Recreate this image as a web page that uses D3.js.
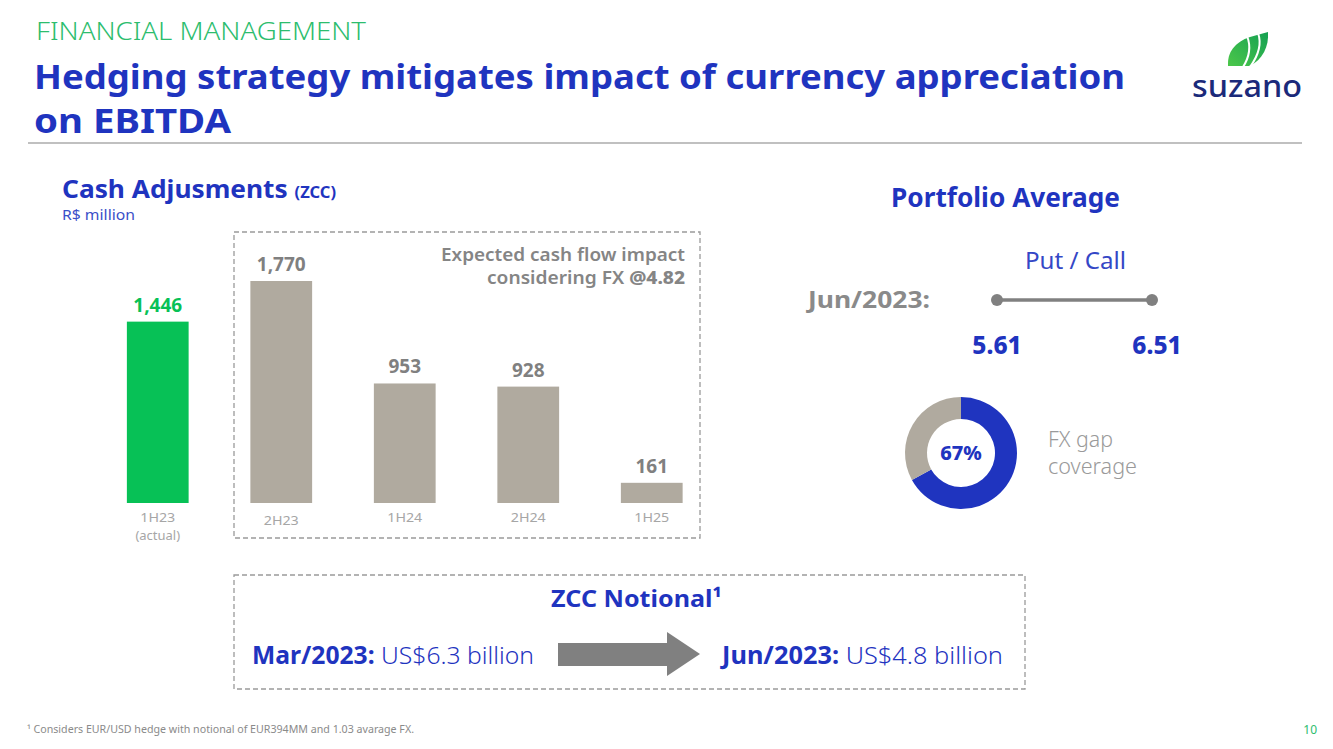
<!DOCTYPE html>
<html><head><meta charset="utf-8">
<script src="https://cdn.jsdelivr.net/npm/d3@7"></script>
<style>
body{margin:0;background:#fff;}
svg text{font-family:"Noto Sans",sans-serif;}
</style></head>
<body><svg id="c" width="1333" height="749"></svg>
<script>
const categories = ["1H23", "2H23", "1H24", "2H24", "1H25"];
const subLabels = ["(actual)", "", "", "", ""];
const values = [1446, 1770, 953, 928, 161];
const valueLabels = ["1,446", "1,770", "953", "928", "161"];
const actualFlags = [true, false, false, false, false];
const putCall = [5.61, 6.51];
const putCallLabels = ["5.61", "6.51"];
const coverage = [67, 33];

const BLUE = "#1f34bf", GREEN = "#07c156", GREY = "#b0aa9f";
const svg = d3.select("#c");
function fit(sel, w){ return sel.attr("textLength", w).attr("lengthAdjust","spacingAndGlyphs"); }

// Header
fit(svg.append("text").attr("x",36).attr("y",40).attr("fill","#2dbd6e").attr("font-size",25).attr("font-weight",300).text("FINANCIAL MANAGEMENT"), 330);
fit(svg.append("text").attr("x",34).attr("y",89).attr("fill",BLUE).attr("font-size",34).attr("font-weight",700).attr("font-family","Roboto, sans-serif").text("Hedging strategy mitigates impact of currency appreciation"), 1091);
fit(svg.append("text").attr("x",34).attr("y",133).attr("fill",BLUE).attr("font-size",34).attr("font-weight",700).attr("font-family","Roboto, sans-serif").text("on EBITDA"), 197);
svg.append("line").attr("x1",28).attr("x2",1302).attr("y1",143).attr("y2",143).attr("stroke","#c0c0c0").attr("stroke-width",2);

// Logo
const defs = svg.append("defs");
const lg = defs.append("linearGradient").attr("id","leafg").attr("x1","0").attr("y1","1").attr("x2","1").attr("y2","0");
lg.append("stop").attr("offset","0").attr("stop-color","#4cc74a");
lg.append("stop").attr("offset","1").attr("stop-color","#14a052");
const logo = svg.append("g");
logo.append("path").attr("d","M1228,66 C1227,52 1235,42 1250,37 L1268,32 C1269,46 1263,60 1249,66 Z").attr("fill","url(#leafg)");
logo.append("path").attr("d","M1247,36 C1251,46 1250,56 1243,67").attr("fill","none").attr("stroke","#fff").attr("stroke-width",2);
logo.append("path").attr("d","M1258,33 C1262,44 1258,56 1250,67").attr("fill","none").attr("stroke","#fff").attr("stroke-width",2);
fit(logo.append("text").attr("x",1192).attr("y",97).attr("fill","#1b2a7a").attr("font-size",31).attr("font-weight",500).attr("font-family","Lato, sans-serif").text("suzano"), 110);

// Section title
const t1 = svg.append("text").attr("x",62).attr("y",198).attr("fill",BLUE).attr("font-size",25.5).attr("font-weight",700);
t1.append("tspan").text("Cash Adjusments ");
t1.append("tspan").attr("font-size",16).text("(ZCC)");
fit(t1, 274);
fit(svg.append("text").attr("x",62).attr("y",220).attr("fill","#3a4fc8").attr("font-size",15).text("R$ million"), 73);

// Bars
const x = d3.scaleBand().domain(categories).range([96, 713.5]).paddingInner(0.5).paddingOuter(0.25);
const y = d3.scaleLinear().domain([0, 1770]).range([503, 281]);

svg.append("rect").attr("x",234).attr("y",232).attr("width",466).attr("height",306)
  .attr("fill","none").attr("stroke","#9a9a9a").attr("stroke-width",1.3).attr("stroke-dasharray","5,3");

const bars = svg.append("g");
bars.selectAll("rect").data(values).join("rect")
  .attr("x",(d,i)=>x(categories[i])).attr("width",x.bandwidth())
  .attr("y",d=>y(d)).attr("height",d=>y(0)-y(d))
  .attr("fill",(d,i)=>actualFlags[i]?GREEN:GREY);
bars.selectAll("text.v").data(values).join("text").attr("class","v")
  .attr("x",(d,i)=>x(categories[i])+x.bandwidth()/2).attr("y",d=>y(d)-10)
  .attr("text-anchor","middle").attr("font-size",19).attr("font-weight",700)
  .attr("fill",(d,i)=>actualFlags[i]?GREEN:"#808080").text((d,i)=>valueLabels[i]);
bars.selectAll("text.c").data(categories).join("text").attr("class","c")
  .attr("x",d=>x(d)+x.bandwidth()/2).attr("y",(d,i)=>i===1?525:522)
  .attr("text-anchor","middle").attr("font-size",13).attr("textLength",35).attr("lengthAdjust","spacingAndGlyphs")
  .attr("fill","#a6a6a6").text(d=>d);
bars.selectAll("text.s").data(subLabels).join("text").attr("class","s")
  .attr("x",(d,i)=>x(categories[i])+x.bandwidth()/2).attr("y",540)
  .attr("text-anchor","middle").attr("font-size",13).attr("fill","#a6a6a6").text(d=>d);

fit(svg.append("text").attr("x",441).attr("y",261).attr("fill","#858585").attr("font-size",17.5).attr("font-weight",600).text("Expected cash flow impact"), 244);
const e2 = svg.append("text").attr("x",487).attr("y",284).attr("fill","#858585").attr("font-size",17.5).attr("font-weight",600);
e2.append("tspan").text("considering FX ");
e2.append("tspan").attr("font-weight",800).text("@4.82");
fit(e2, 198);

// Portfolio average
fit(svg.append("text").attr("x",891).attr("y",207).attr("fill",BLUE).attr("font-size",26).attr("font-weight",700).text("Portfolio Average"), 229);
fit(svg.append("text").attr("x",1025).attr("y",269).attr("fill","#3447c6").attr("font-size",24).attr("font-weight",400).text("Put / Call"), 101);
fit(svg.append("text").attr("x",808).attr("y",308).attr("fill","#8a8a8a").attr("font-size",24).attr("font-weight",700).text("Jun/2023:"), 122);
const px = d3.scaleLinear().domain(putCall).range([997, 1152]);
svg.append("line").attr("x1",px(putCall[0])).attr("x2",px(putCall[1])).attr("y1",300).attr("y2",300).attr("stroke","#808080").attr("stroke-width",3.5);
svg.selectAll("circle.pc").data(putCall).join("circle").attr("class","pc").attr("cx",d=>px(d)).attr("cy",300).attr("r",6).attr("fill","#808080");
svg.selectAll("text.pcl").data(putCall).join("text").attr("class","pcl").attr("x",(d,i)=>px(d)+(i?5:0)).attr("y",354)
  .attr("text-anchor","middle").attr("fill",BLUE).attr("font-size",24.5).attr("font-weight",800).text((d,i)=>putCallLabels[i]);

// Donut
const pie = d3.pie().sort(null)(coverage);
const arc = d3.arc().innerRadius(34).outerRadius(56);
const dg = svg.append("g").attr("transform","translate(961,453)");
dg.selectAll("path").data(pie).join("path").attr("d",arc).attr("fill",(d,i)=>i===0?BLUE:GREY);
dg.append("text").attr("y",7).attr("text-anchor","middle").attr("fill",BLUE).attr("font-size",20).attr("font-weight",800).text(coverage[0]+"%");
fit(svg.append("text").attr("x",1048).attr("y",447).attr("fill","#9a9a9a").attr("font-size",21).attr("font-weight",300).text("FX gap"), 65);
fit(svg.append("text").attr("x",1048).attr("y",474).attr("fill","#9a9a9a").attr("font-size",21).attr("font-weight",300).text("coverage"), 89);

// ZCC Notional box
svg.append("rect").attr("x",234).attr("y",575).attr("width",791).attr("height",114)
  .attr("fill","none").attr("stroke","#9a9a9a").attr("stroke-width",1.3).attr("stroke-dasharray","5,3");
fit(svg.append("text").attr("x",551).attr("y",607).attr("fill",BLUE).attr("font-size",24).attr("font-weight",700).text("ZCC Notional¹"), 171);
const m1 = svg.append("text").attr("x",252).attr("y",664).attr("fill",BLUE).attr("font-size",24.5);
m1.append("tspan").attr("font-weight",700).text("Mar/2023: ");
m1.append("tspan").attr("font-weight",300).text("US$6.3 billion");
fit(m1, 282);
const m2 = svg.append("text").attr("x",722).attr("y",664).attr("fill",BLUE).attr("font-size",24.5);
m2.append("tspan").attr("font-weight",700).text("Jun/2023: ");
m2.append("tspan").attr("font-weight",300).text("US$4.8 billion");
fit(m2, 281);
svg.append("path").attr("d","M558,643 L667,643 L667,632 L700,654 L667,676 L667,666 L558,666 Z").attr("fill","#808080");

// Footnote
fit(svg.append("text").attr("x",27).attr("y",733).attr("fill","#8a8a8a").attr("font-size",10.5).text("¹ Considers EUR/USD hedge with notional of EUR394MM and 1.03 avarage FX."), 387);
svg.append("text").attr("x",1317).attr("y",734).attr("text-anchor","end").attr("fill","#2dbd6e").attr("font-size",12).text("10");
</script></body></html>
